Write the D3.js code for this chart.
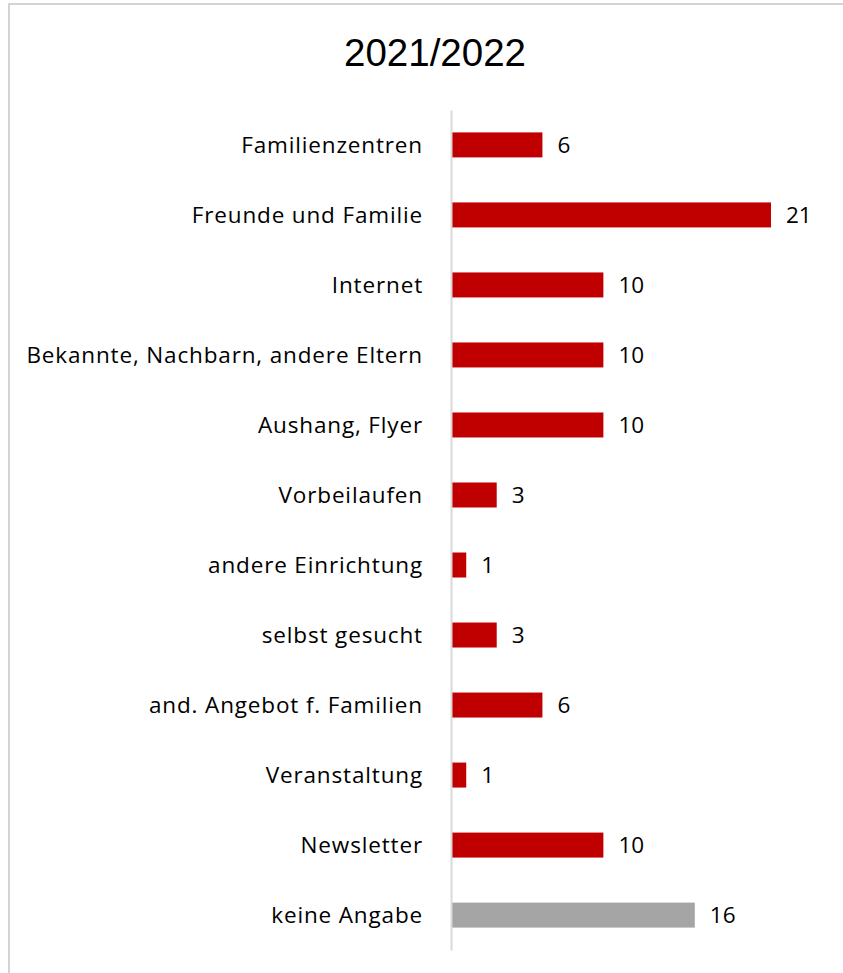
<!DOCTYPE html>
<html>
<head>
<meta charset="utf-8">
<script src="https://cdn.jsdelivr.net/npm/d3@7"></script>
<style>
  body { margin: 0; background: #fff; }
  svg { display: block; }
</style>
</head>
<body>
<div id="chart"></div>
<script>
// Data
var categories = [
  "Familienzentren",
  "Freunde und Familie",
  "Internet",
  "Bekannte, Nachbarn, andere Eltern",
  "Aushang, Flyer",
  "Vorbeilaufen",
  "andere Einrichtung",
  "selbst gesucht",
  "and. Angebot f. Familien",
  "Veranstaltung",
  "Newsletter",
  "keine Angabe"
];
var values = [6, 21, 10, 10, 10, 3, 1, 3, 6, 1, 10, 16];
var title = "2021/2022";

var width = 843;
var height = 973;
var margin = { top: 110, left: 451, bottom: 23 };
var labelFont = "'Open Sans', sans-serif";

var data = categories.map((c, i) => ({ category: c, value: values[i] }));

var svg = d3.select("#chart")
  .append("svg")
  .attr("width", width)
  .attr("height", height);

// Frame (cut off at right and bottom like the original)
svg.append("path")
  .attr("d", "M9," + height + " V4 H" + width)
  .attr("fill", "none")
  .attr("stroke", "#d4d4d4")
  .attr("stroke-width", 2);

// Title
svg.append("text")
  .attr("x", 435)
  .attr("y", 66)
  .attr("text-anchor", "middle")
  .style("font-family", "'Liberation Sans', Arial, sans-serif")
  .style("font-size", "38.5px")
  .style("fill", "#000")
  .text(title);

// Scales
var x = d3.scaleLinear()
  .domain([0, 21])
  .range([margin.left, margin.left + 320]);

var y = d3.scaleBand()
  .domain(categories)
  .range([margin.top, height - margin.bottom])
  .paddingInner(0.643)
  .paddingOuter(0.32);

// Bars
svg.selectAll("rect.bar")
  .data(data)
  .enter()
  .append("rect")
  .attr("class", "bar")
  .attr("x", x(0))
  .attr("y", d => y(d.category))
  .attr("width", d => x(d.value) - x(0))
  .attr("height", y.bandwidth())
  .attr("fill", d => d.category === "keine Angabe" ? "#a5a5a5" : "#c00000");

// Axis line
var yAxis = svg.append("g")
  .attr("transform", "translate(" + margin.left + ",0)")
  .call(d3.axisLeft(y).tickSize(0).tickPadding(28));

yAxis.select(".domain")
  .attr("stroke", "#d9d9d9")
  .attr("stroke-width", 2);

yAxis.selectAll("text")
  .style("font-family", labelFont)
  .style("font-size", "22.5px")
  .style("letter-spacing", "0.85px")
  .style("fill", "#000")
  .attr("dy", "0.35em");

// Value labels
svg.selectAll("text.value")
  .data(data)
  .enter()
  .append("text")
  .attr("class", "value")
  .attr("x", d => x(d.value) + 15)
  .attr("y", d => y(d.category) + y.bandwidth() / 2)
  .attr("dy", "0.35em")
  .style("font-family", labelFont)
  .style("font-size", "22.5px")
  .style("fill", "#000")
  .text(d => d.value);
</script>
</body>
</html>
